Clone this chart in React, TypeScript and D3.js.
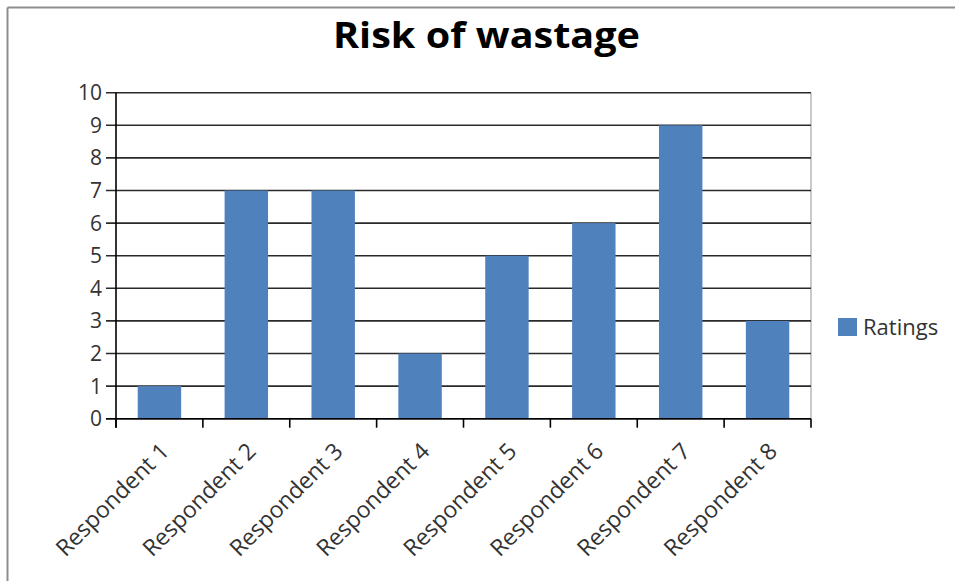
import React from "react";
import * as d3 from "d3";

const categories = [
  "Respondent 1",
  "Respondent 2",
  "Respondent 3",
  "Respondent 4",
  "Respondent 5",
  "Respondent 6",
  "Respondent 7",
  "Respondent 8",
];
const ratings = [1, 7, 7, 2, 5, 6, 9, 3];
const yTicks = [0, 1, 2, 3, 4, 5, 6, 7, 8, 9, 10];
const seriesName = "Ratings";
const title = "Risk of wastage";

const W = 955;
const H = 581;
const plotLeft = 116;
const plotRight = 811;
const plotTop = 92.7;
const plotBottom = 418.7;
const font = "'Open Sans', Lato, sans-serif";
const barColor = "#4f81bd";

export default function App() {
  const x = d3
    .scaleBand<string>()
    .domain(categories)
    .range([plotLeft, plotRight])
    .paddingInner(0.5)
    .paddingOuter(0.25);
  const y = d3.scaleLinear().domain([0, 10]).range([plotBottom, plotTop]);
  const step = (plotRight - plotLeft) / categories.length;
  const boundaries = d3.range(categories.length + 1).map((i) => plotLeft + i * step);

  return (
    <svg
      width={W}
      height={H}
      style={{ position: "absolute", left: 0, top: 0, background: "#fff" }}
      fontFamily={font}
    >
      <rect x={0} y={0} width={W} height={H} fill="#fff" />
      {/* outer chart frame */}
      <line x1={7.5} y1={7.5} x2={W} y2={7.5} stroke="#8e8e8e" strokeWidth={2} />
      <line x1={7.5} y1={7.5} x2={7.5} y2={H} stroke="#8e8e8e" strokeWidth={2} />

      <text
        x={333}
        y={48}
        fontSize={36}
        fontWeight="bold"
        fill="#000"
        textLength={307}
        lengthAdjust="spacingAndGlyphs"
      >
        {title}
      </text>

      {/* plot area right edge */}
      <line x1={plotRight} y1={plotTop} x2={plotRight} y2={plotBottom} stroke="#b8b8b8" strokeWidth={1.5} />

      {/* horizontal gridlines + y ticks */}
      {yTicks.map((t) => (
        <g key={t}>
          <line x1={plotLeft - 10} x2={plotRight} y1={y(t)} y2={y(t)} stroke="#2a2a2a" strokeWidth={1.6} />
          <text x={102} y={y(t)} dy="0.36em" textAnchor="end" fontSize={21} fill="#333">
            {t}
          </text>
        </g>
      ))}

      {/* bars */}
      {categories.map((c, i) => (
        <rect
          key={c}
          x={x(c)}
          y={y(ratings[i])}
          width={x.bandwidth()}
          height={y(0) - y(ratings[i])}
          fill={barColor}
        />
      ))}

      {/* axes */}
      <line x1={plotLeft} x2={plotLeft} y1={plotTop} y2={plotBottom + 9} stroke="#000" strokeWidth={1.6} />
      <line x1={plotLeft - 10} x2={plotRight} y1={plotBottom} y2={plotBottom} stroke="#000" strokeWidth={1.6} />
      {boundaries.map((b, i) => (
        <line key={i} x1={b} x2={b} y1={plotBottom} y2={plotBottom + 9} stroke="#000" strokeWidth={1.6} />
      ))}

      {/* category labels */}
      {categories.map((c) => {
        const cx = (x(c) as number) + x.bandwidth() / 2;
        return (
          <text
            key={c}
            transform={`translate(${cx + 11},${plotBottom + 34}) rotate(-45)`}
            textAnchor="end"
            fontSize={23}
            fill="#333"
          >
            {c}
          </text>
        );
      })}

      {/* legend */}
      <rect x={838} y={318} width={19} height={18} fill={barColor} />
      <text x={863} y={335} fontSize={22} fill="#333">
        {seriesName}
      </text>
    </svg>
  );
}
